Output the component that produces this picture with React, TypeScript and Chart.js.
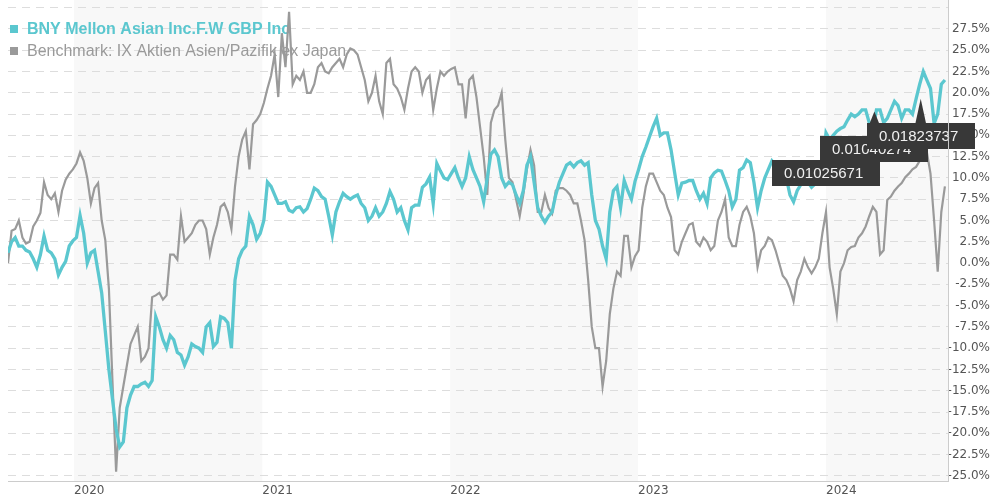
import React, { useEffect, useRef } from 'react';
import { Chart, registerables } from 'chart.js';

Chart.register(...registerables);

// ---- data (weekly observations, % change since start) ----
const START_UTC = Date.UTC(2019, 7, 26);
const DAY_MS = 86400000;
const STEP_DAYS = 7;
const SPAN_DAYS = 1826;

const fundName = 'BNY Mellon Asian Inc.F.W GBP Inc';
const benchName = 'Benchmark: IX Aktien Asien/Pazifik ex Japan';

const fundValues = [
  1.2, 2.5, 3.0, 2.0, 2.0, 1.5, 1.3, 0.5, -0.5, 1.0, 3.2, 1.5, 1.2, 0.5, -1.4, -0.5, 0.2, 2.0, 2.6, 3.0,
  5.6, 3.5, 0.0, 1.2, 1.5, -1.0, -3.5, -8.0, -12.5, -16.0, -19.5, -21.6, -21.0, -17.0, -15.5, -14.5, -14.5, -14.2, -14.0, -14.5,
  -13.8, -6.3, -7.5, -9.0, -10.0, -8.5, -9.0, -10.5, -10.8, -12.0, -11.0, -9.5, -9.8, -10.0, -10.5, -7.5, -7.0, -9.8, -9.3, -6.3,
  -6.5, -7.0, -10.0, -2.0, 0.5, 1.5, 2.0, 5.5, 4.5, 2.8, 3.5, 5.0, 9.5, 9.0, 8.0, 7.0, 7.0, 7.2, 6.2, 6.0,
  6.5, 6.6, 6.0, 6.4, 7.5, 8.8, 8.5, 7.8, 7.5, 5.5, 3.3, 6.0, 7.2, 8.2, 7.8, 7.5, 7.8, 8.0, 7.0, 6.5,
  5.0, 5.5, 6.5, 5.5, 6.0, 7.0, 8.4, 7.5, 6.0, 6.5, 5.0, 3.9, 6.5, 6.8, 6.8, 8.9, 9.3, 10.1, 7.0, 11.7,
  10.8, 10.0, 9.8, 10.5, 11.2, 10.0, 9.0, 10.0, 12.5, 11.0, 10.0, 9.0, 7.2, 10.0, 12.8, 13.3, 12.5, 10.0, 9.0, 9.5,
  9.2, 8.0, 7.0, 8.5, 11.5, 12.5, 9.5, 6.5, 5.5, 4.8, 5.5, 6.0, 8.0, 9.5, 10.5, 11.5, 11.8, 11.3, 11.8, 12.0,
  11.5, 11.8, 8.0, 5.0, 4.0, 2.0, 0.5, 6.0, 8.5, 9.0, 6.5, 9.7, 8.5, 7.5, 9.6, 11.0, 12.5, 13.6, 14.8, 16.0,
  17.0, 15.0, 15.3, 15.3, 13.3, 10.6, 8.0, 9.4, 9.5, 9.7, 9.7, 8.5, 7.5, 8.2, 7.0, 10.0, 10.6, 10.9, 10.8, 9.7,
  8.5, 6.6, 7.5, 10.9, 11.2, 12.1, 11.8, 9.5, 6.5, 8.5, 10.0, 11.0, 12.0, 11.5, 11.0, 10.0, 10.0, 8.0, 7.2, 8.5,
  9.2, 9.7, 9.5, 8.9, 9.3, 10.5, 11.0, 15.3, 14.5, 15.0, 15.5, 15.8, 16.0, 16.8, 17.5, 17.2, 17.5, 18.0, 18.0, 16.5,
  15.5, 18.0, 18.0, 16.5, 17.0, 18.0, 19.0, 18.5, 17.0, 18.0, 18.0, 17.5, 19.3, 21.0, 22.5, 21.5, 20.5, 16.4, 17.5, 21.0,
  21.5,
];

const benchValues = [
  0.0, 3.8, 4.0, 5.0, 3.0, 2.3, 2.5, 4.3, 5.0, 5.9, 9.5, 8.0, 7.5, 8.2, 6.0, 8.5, 9.8, 10.5, 11.0, 11.7,
  13.0, 12.0, 10.0, 7.0, 8.8, 9.4, 5.0, 2.7, -3.0, -14.0, -24.5, -17.0, -14.5, -12.0, -9.5, -8.5, -7.5, -11.5, -11.0, -10.0,
  -4.0, -3.8, -3.5, -4.3, -3.8, 1.0, 1.0, 0.4, 5.5, 2.5, 3.0, 3.5, 4.5, 5.0, 5.0, 4.0, 1.0, 3.0, 4.5, 6.6,
  7.0, 6.0, 4.0, 9.0, 12.5, 14.5, 15.5, 11.0, 16.3, 16.8, 17.5, 18.8, 20.5, 22.0, 24.5, 19.5, 27.0, 23.0, 29.5, 21.0,
  22.0, 21.5, 22.5, 20.0, 20.0, 21.0, 23.0, 23.5, 22.5, 22.3, 23.0, 23.5, 24.0, 23.0, 24.5, 25.2, 25.0, 24.5, 23.0, 21.5,
  19.0, 20.0, 22.0, 19.0, 17.5, 23.5, 24.0, 21.0, 20.5, 19.5, 18.0, 20.5, 22.5, 23.0, 22.5, 20.0, 21.5, 22.0, 18.0, 20.5,
  22.5, 22.0, 22.5, 22.8, 23.0, 21.0, 21.0, 17.0, 21.5, 22.0, 19.5, 16.0, 12.5, 8.0, 16.5, 18.0, 18.5, 20.0, 14.5, 10.0,
  9.5, 7.5, 5.5, 8.0, 11.0, 13.3, 11.5, 6.0, 6.0, 8.0, 6.5, 5.8, 8.5, 8.8, 8.8, 8.5, 8.0, 7.0, 7.0, 5.0,
  2.7, -2.0, -7.5, -10.0, -10.0, -14.5, -11.5, -6.0, -3.0, -1.0, -1.5, 3.2, 3.2, -0.5, 0.8, 1.5, 6.5, 9.0, 10.5, 10.5,
  9.5, 8.5, 8.0, 6.5, 5.4, 1.5, 1.0, 2.5, 3.5, 4.5, 4.7, 2.5, 2.0, 3.0, 2.5, 1.5, 2.0, 5.0, 6.0, 7.5,
  3.0, 2.0, 2.0, 4.5, 6.0, 6.6, 5.5, 3.5, -0.5, 1.5, 2.0, 3.0, 2.7, 1.5, 0.0, -1.5, -2.0, -3.0, -4.5, -2.0,
  -1.0, 0.5, -0.5, -1.2, -0.5, 0.5, 3.5, 6.0, -0.5, -3.0, -6.0, -1.0, 0.0, 1.5, 1.9, 2.0, 3.0, 3.5, 4.3, 5.5,
  6.6, 6.0, 1.0, 1.5, 7.4, 7.8, 8.5, 9.0, 9.4, 10.1, 10.5, 11.0, 11.3, 12.0, 12.5, 13.0, 10.5, 5.0, -1.0, 6.0,
  9.0,
];

const yearLabels = ['2020', '2021', '2022', '2023', '2024'];
const shadedYears = [2020, 2022, 2024];

const flagLabels = ['0.01025671', '0.01040274', '0.01823737'];
const flagDays = [1485, 1577, 1668];
const flagTopValues = [12.1, 14.95, 16.5];
const peakDays = [1683, 1773];
const peakValues = [17.8, 19.3];

// ---- styles ----
const TEAL = '#5bc7cf';
const GRAY = '#9a9a9a';

const dayOf = (y: number) => Math.round((Date.UTC(y, 0, 1) - START_UTC) / DAY_MS);
const dayOffsets = fundValues.map((_, i) => i * STEP_DAYS);

const decorPlugin = {
  id: 'decor',
  beforeDraw(chart: any) {
    const { ctx, chartArea: a, scales } = chart;
    const x = scales.x;
    ctx.save();
    ctx.fillStyle = '#f8f8f8';
    shadedYears.forEach((yr) => {
      const x0 = Math.max(a.left, x.getPixelForValue(dayOf(yr)));
      const x1 = Math.min(a.right, x.getPixelForValue(dayOf(yr + 1)));
      if (x1 > x0) ctx.fillRect(x0, a.top, x1 - x0, a.bottom - a.top);
    });
    ctx.restore();
  },
  beforeDatasetsDraw(chart: any) {
    const { ctx } = chart;
    ctx.save();
    ctx.textBaseline = 'middle';
    ctx.textAlign = 'left';
    ctx.fillStyle = TEAL;
    ctx.fillRect(10, 25, 8, 8);
    ctx.font = 'bold 16px "Liberation Sans", Arial, sans-serif';
    ctx.fillText(fundName, 27, 29.5);
    ctx.fillStyle = GRAY;
    ctx.fillRect(10, 47, 8, 8);
    ctx.font = '16px "Liberation Sans", Arial, sans-serif';
    ctx.fillText(benchName, 27, 51.5);
    ctx.restore();
  },
  afterDatasetsDraw(chart: any) {
    const { ctx, chartArea: a, scales } = chart;
    const x = scales.x;
    const y = scales.y;
    ctx.save();
    // dark peaks above the last flag
    const baseY = y.getPixelForValue(flagTopValues[flagTopValues.length - 1]) + 4;
    ctx.fillStyle = '#383838';
    peakDays.forEach((d, i) => {
      const px = x.getPixelForValue(d);
      const py = y.getPixelForValue(peakValues[i]);
      ctx.beginPath();
      ctx.moveTo(px, py);
      ctx.lineTo(px + 6, baseY);
      ctx.lineTo(px - 6, baseY);
      ctx.closePath();
      ctx.fill();
    });
    // flag boxes
    ctx.font = '15px "Liberation Sans", Arial, sans-serif';
    ctx.textBaseline = 'middle';
    ctx.textAlign = 'left';
    flagLabels.forEach((t, i) => {
      const left = Math.round(x.getPixelForValue(flagDays[i]));
      const top = Math.round(y.getPixelForValue(flagTopValues[i]));
      const w = Math.round(ctx.measureText(t).width + 29);
      const h = 26;
      ctx.fillStyle = '#383838';
      ctx.fillRect(left, top, w, h);
      ctx.fillStyle = '#f0f0f0';
      ctx.fillText(t, left + 12, top + h / 2 + 1);
    });
    // right axis line
    ctx.strokeStyle = '#cccccc';
    ctx.lineWidth = 1;
    ctx.beginPath();
    ctx.moveTo(Math.round(a.right) + 0.5, a.top);
    ctx.lineTo(Math.round(a.right) + 0.5, a.bottom);
    ctx.stroke();
    ctx.restore();
  },
};

export default function App() {
  const ref = useRef<HTMLCanvasElement>(null);

  useEffect(() => {
    if (!ref.current) return;
    const chart = new Chart(ref.current, {
      type: 'line',
      data: {
        datasets: [
          {
            label: fundName,
            data: fundValues.map((v, i) => ({ x: dayOffsets[i], y: v })),
            borderColor: TEAL,
            backgroundColor: TEAL,
            borderWidth: 3.3,
            pointRadius: 0,
            tension: 0,
            fill: false,
          },
          {
            label: benchName,
            data: benchValues.map((v, i) => ({ x: dayOffsets[i], y: v })),
            borderColor: GRAY,
            backgroundColor: GRAY,
            borderWidth: 2.2,
            pointRadius: 0,
            tension: 0,
            fill: false,
          },
        ],
      },
      options: {
        responsive: false,
        devicePixelRatio: 1,
        animation: false,
        events: [],
        layout: { padding: { left: 8, top: 0, right: 0, bottom: 0 } },
        plugins: {
          legend: { display: false },
          tooltip: { enabled: false },
        },
        scales: {
          x: {
            type: 'linear',
            min: 0,
            max: SPAN_DAYS,
            grid: { display: false, drawTicks: false },
            border: { display: true, color: '#cccccc' },
            afterBuildTicks: (scale: any) => {
              scale.ticks = yearLabels.map((l) => ({ value: dayOf(Number(l)) }));
            },
            afterFit: (scale: any) => {
              scale.height = 19;
              scale.paddingLeft = 0;
              scale.paddingRight = 0;
            },
            ticks: {
              autoSkip: false,
              maxRotation: 0,
              align: 'start',
              padding: 3,
              color: '#555555',
              font: { family: '"DejaVu Sans", sans-serif', size: 12 },
              callback: (v: any) => {
                const idx = yearLabels.findIndex((l) => dayOf(Number(l)) === Number(v));
                return idx >= 0 ? yearLabels[idx] : null;
              },
            },
          },
          y: {
            position: 'right',
            min: -25.6,
            max: 30.9,
            grid: { color: '#dddddd', drawTicks: false, lineWidth: 1 },
            border: { display: false, dash: [8, 6] },
            afterFit: (scale: any) => {
              scale.width = 42;
              scale.paddingTop = 0;
              scale.paddingBottom = 0;
            },
            ticks: {
              stepSize: 2.5,
              includeBounds: false,
              padding: 0,
              crossAlign: 'far',
              color: '#555555',
              font: { family: '"DejaVu Sans", sans-serif', size: 12 },
              callback: (v: any) => {
                const n = Number(v);
                const q = n / 2.5;
                if (Math.abs(q - Math.round(q)) > 1e-6) return null;
                if (n > 27.5 + 1e-6) return '';
                return n.toFixed(1) + '%';
              },
            },
          },
        },
      },
      plugins: [decorPlugin],
    } as any);
    return () => chart.destroy();
  }, []);

  return (
    <div style={{ position: 'absolute', left: 0, top: 0, width: 990, height: 500 }}>
      <canvas ref={ref} width={990} height={500} style={{ display: 'block', width: 990, height: 500 }} />
    </div>
  );
}
